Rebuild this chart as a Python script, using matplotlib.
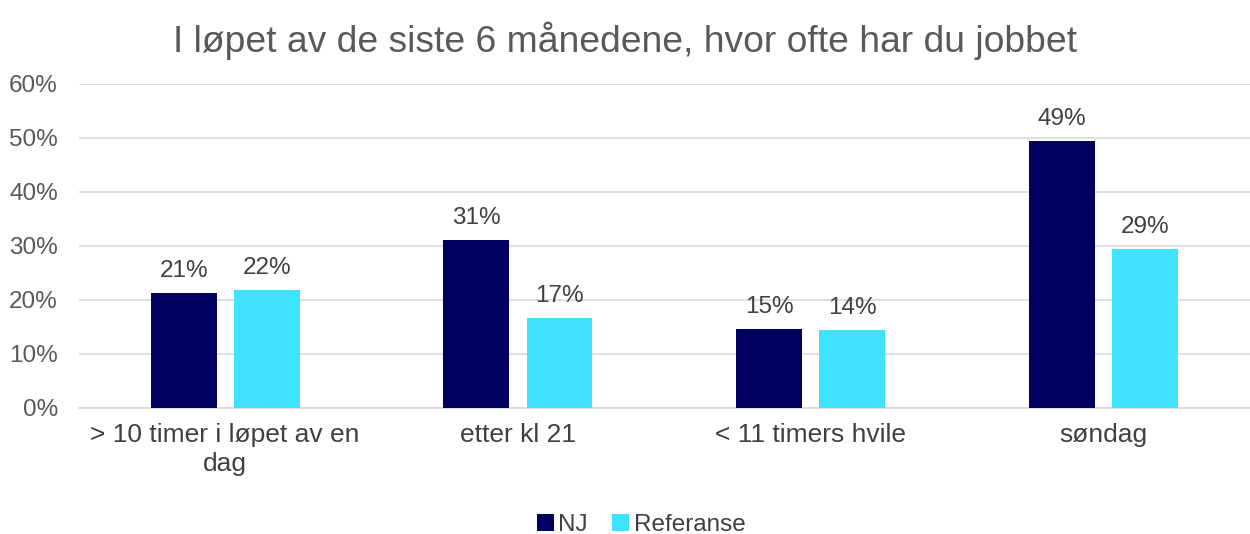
import matplotlib.pyplot as plt
import numpy as np

categories = ["> 10 timer i løpet av en\ndag", "etter kl 21", "< 11 timers hvile", "søndag"]
nj = [21.3, 31.1, 14.6, 49.4]
referanse = [21.8, 16.7, 14.4, 29.4]
nj_labels = ["21%", "31%", "15%", "49%"]
ref_labels = ["22%", "17%", "14%", "29%"]
yticks = [0, 10, 20, 30, 40, 50, 60]

plt.rcParams['font.family'] = ['Liberation Sans', 'DejaVu Sans']
txt = '#404040'

fig = plt.figure(figsize=(12.5, 5.34), dpi=100)
ax = fig.add_axes([0.063, 0.236, 0.937, 0.607])

x = np.arange(len(categories))
w = 0.225
off = 0.142
b1 = ax.bar(x - off, nj, w, color='#000060', label='NJ', zorder=3)
b2 = ax.bar(x + off, referanse, w, color='#3fe3ff', label='Referanse', zorder=3)

for rect, lab in zip(b1, nj_labels):
    ax.text(rect.get_x() + rect.get_width() / 2, rect.get_height() + 2.0, lab,
            ha='center', va='bottom', fontsize=17.5, color=txt)
for rect, lab in zip(b2, ref_labels):
    ax.text(rect.get_x() + rect.get_width() / 2, rect.get_height() + 2.0, lab,
            ha='center', va='bottom', fontsize=17.5, color=txt)

ax.set_xlim(-0.5, len(categories) - 0.5)
ax.set_ylim(0, 60)
ax.set_yticks(yticks)
ax.set_yticklabels([f"{v}%" for v in yticks], fontsize=17.5, color='#595959')
ax.set_xticks(x)
ax.set_xticklabels(categories, fontsize=19, color=txt, linespacing=1.25)
ax.tick_params(axis='y', length=0, pad=15)
ax.tick_params(axis='x', length=0, pad=11)
ax.grid(axis='y', color='#d9d9d9', linewidth=1.2, zorder=0)
for s in ['top', 'right', 'left']:
    ax.spines[s].set_visible(False)
ax.spines['bottom'].set_color('#d9d9d9')
ax.spines['bottom'].set_linewidth(1.2)

fig.suptitle("I løpet av de siste 6 månedene, hvor ofte har du jobbet",
             fontsize=26.8, color='#595959', y=0.96)

fig.legend(loc='lower center', bbox_to_anchor=(0.513, -0.045), ncol=2, frameon=False,
           fontsize=17.5, handlelength=0.7, handleheight=0.7, handletextpad=0.2,
           columnspacing=1.0, labelcolor=txt)

fig.savefig('out.png', dpi=100)
